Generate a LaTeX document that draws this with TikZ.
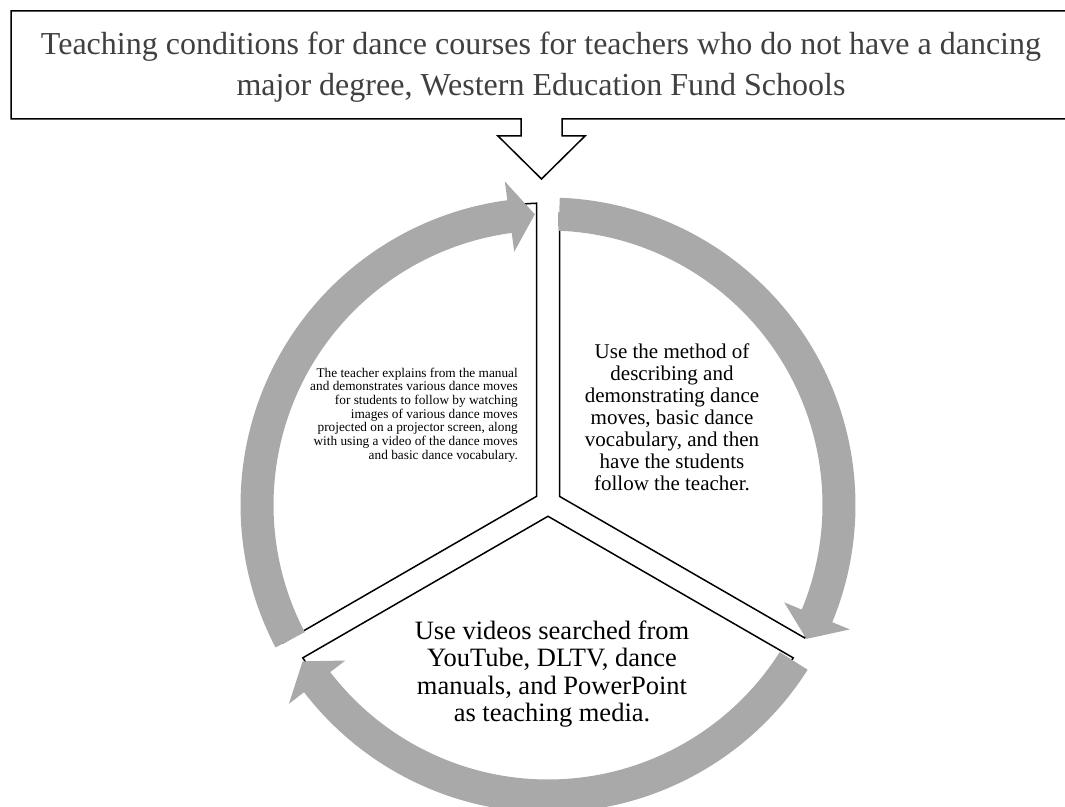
\documentclass[tikz,border=0pt]{standalone}
\usepackage{fontspec}
\setmainfont{Liberation Serif}
\definecolor{ringgray}{HTML}{A9A9A9}
\definecolor{titlegray}{HTML}{404040}

\def \gapHalf {11.5}
\def \ringMid {291}
\def \ringHalf {16.5}
\def \headHalf {35.5}
\def \headLen {5}

\begin{document}
\begin{tikzpicture}[x=1pt, y=1pt,
    sector/.style={draw=black, line width=1.5pt, fill=white, line join=miter},
    ringarrow/.style={fill=ringgray, draw=none},
    label/.style={inner sep=0pt, align=center, text=black}]
  \useasboundingbox (0,0) rectangle (1065,806);
  \clip (0,0) rectangle (1065,806);

  % title box with its down arrow
  \draw[line width=1.5pt, fill=white] (11,795) -- (1075,795) -- (1075,687) -- (562,687) -- (562,670)
    -- (585,670) -- (541.5,627) -- (498,670) -- (521,670) -- (521,687) -- (11,687) -- cycle;
  \node[label, text=titlegray, font=\fontsize{32}{41}\selectfont] (title) at (541,739)
    {Teaching conditions for dance courses for teachers who do not have a dancing\\major degree, Western Education Fund Schools};

  % three sectors of the disc
  \begin{scope}[shift={(548,303)}]
    \foreach \fromAng/\toAng/\rad in {90/210/300, -30/90/290, 210/330/290} {
      \pgfmathsetmacro\gapAng{asin(\gapHalf/\rad)}
      \pgfmathsetmacro\midAng{(\fromAng+\toAng)/2}
      \draw[sector] (\midAng:{\gapHalf/sin(60)}) -- ({\fromAng+\gapAng}:\rad)
        arc[start angle={\fromAng+\gapAng}, end angle={\toAng-\gapAng}, radius=\rad] -- cycle;
    }
  \end{scope}

  % grey circular arrows, clockwise
  \begin{scope}[shift={(548,301)}]
    \foreach \tailAng/\tipAng in {207.6/92.6, 87.8/-27.4, -32.4/-147.5} {
      \pgfmathsetmacro\baseAng{\tipAng+\headLen}
      \fill[ringarrow] (\tailAng:{\ringMid+\ringHalf})
        arc[start angle=\tailAng, end angle=\baseAng, radius={\ringMid+\ringHalf}]
        -- (\baseAng:{\ringMid+\headHalf}) -- (\tipAng:\ringMid) -- (\baseAng:{\ringMid-\headHalf})
        -- (\baseAng:{\ringMid-\ringHalf})
        arc[start angle=\baseAng, end angle=\tailAng, radius={\ringMid-\ringHalf}] -- cycle;
    }
  \end{scope}

  % texts in the sectors
  \node[label, align=right, anchor=east, font=\fontsize{13.3}{13.7}\selectfont] (teacherText) at (518,391)
    {The teacher explains from the manual\\and demonstrates various dance moves\\for students to follow by watching\\images of various dance moves\\projected on a projector screen, along\\with using a video of the dance moves\\and basic dance vocabulary.};
  \node[label, font=\fontsize{21}{22}\selectfont] (methodText) at (672,389)
    {Use the method of\\describing and\\demonstrating dance\\moves, basic dance\\vocabulary, and then\\have the students\\follow the teacher.};
  \node[label, font=\fontsize{26.5}{27.3}\selectfont] (mediaText) at (552,132)
    {Use videos searched from\\YouTube, DLTV, dance\\manuals, and PowerPoint\\as teaching media.};
\end{tikzpicture}
\end{document}
